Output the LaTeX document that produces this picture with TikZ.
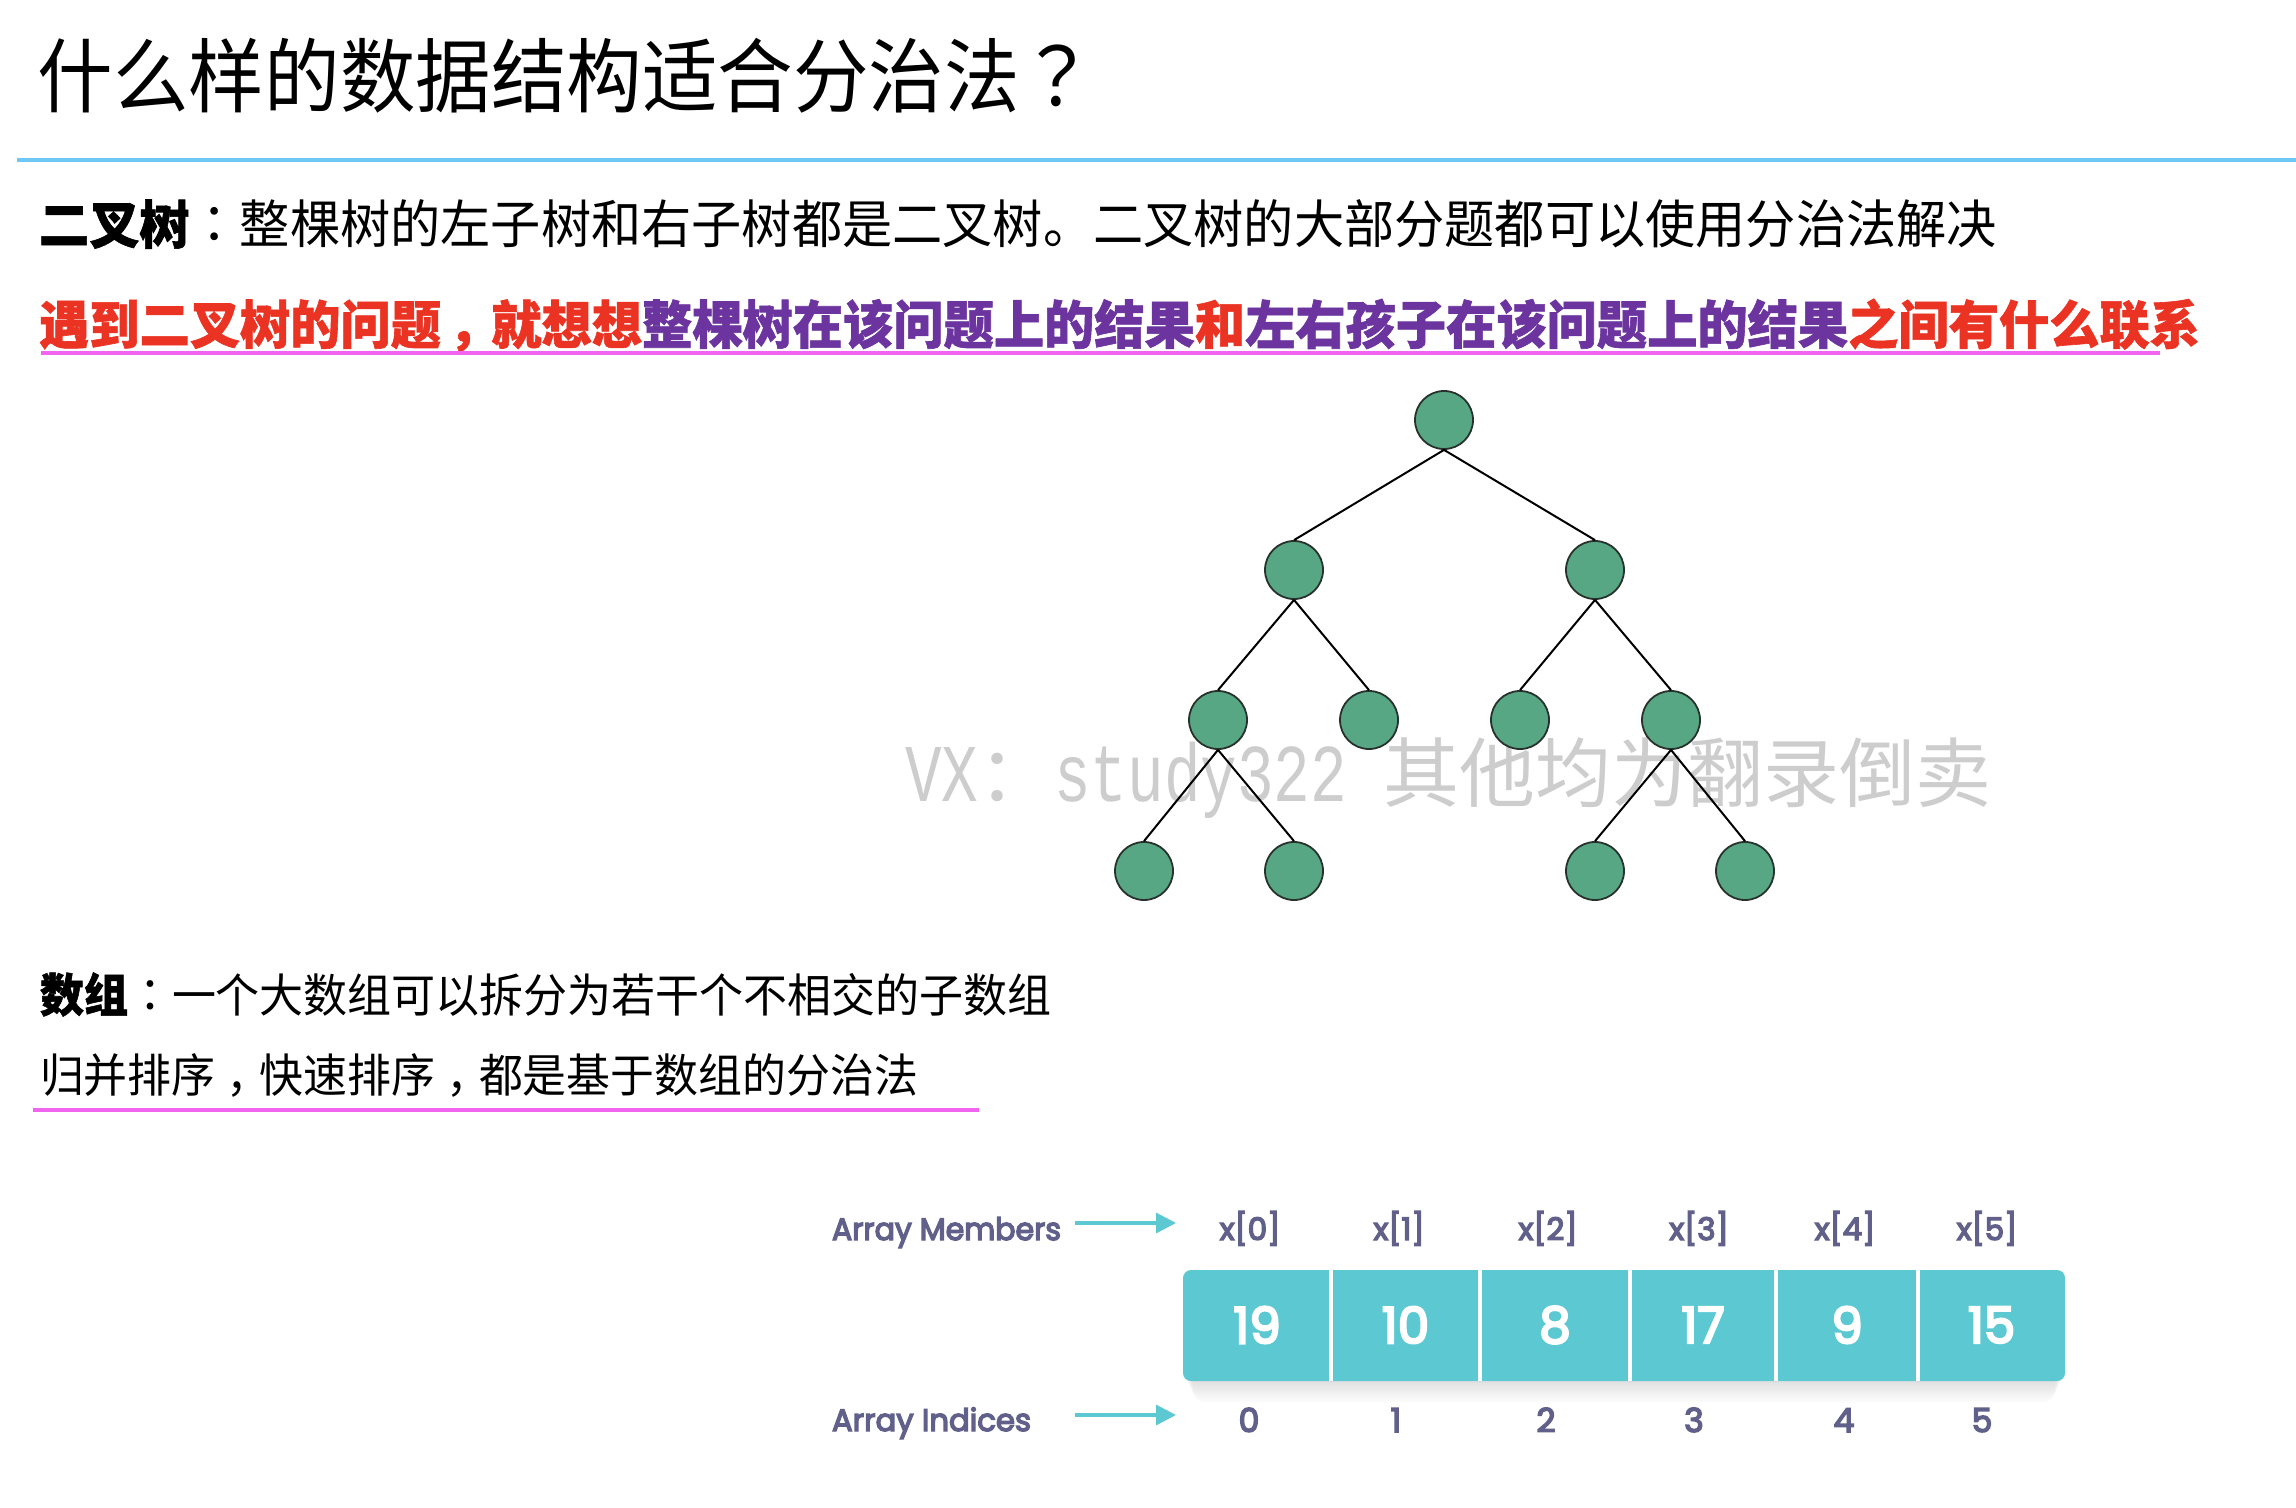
\documentclass[tikz,border=0pt]{standalone}
\usepackage{fontspec}
\usepackage{graphicx}
\usetikzlibrary{arrows.meta}
\setmainfont{Noto Sans CJK SC}
\newfontfamily\pop{Poppins}
\newfontfamily\popm{Poppins}[FakeBold=4.5]
\newfontfamily\wmmono{Liberation Mono}
\newfontfamily\cjk{Noto Sans CJK SC}
\newfontfamily\cjkheavy{Noto Sans CJK SC}[BoldFeatures={FakeBold=1.2}]
% centred full-width punctuation
\newfontfamily\cjkpunct{Noto Sans CJK TC}

% stretch or squeeze a text horizontally to a given width, keeping its height
\newcommand\fitw[2]{\resizebox{#1}{\height}{#2}}
\newcommand\pc[1]{{\cjkpunct #1}}
% full-width comma moved towards the middle of its cell
\newcommand\cm[1]{\makebox[1em][l]{\hspace{#1}，}}

\definecolor{titlerule}{RGB}{110,200,245}
\definecolor{hlred}{RGB}{235,51,35}
\definecolor{hlpurple}{RGB}{108,52,158}
\definecolor{uline}{RGB}{240,100,240}
\definecolor{tnfill}{RGB}{87,167,133}
\definecolor{tnline}{RGB}{40,50,45}
\definecolor{cellteal}{RGB}{91,200,210}
\definecolor{lblgray}{RGB}{96,96,138}
\definecolor{wmgray}{RGB}{205,205,205}

\tikzset{
  txt/.style={anchor=base west, inner sep=0pt, outer sep=0pt},
  tnode/.style={circle, draw=tnline, fill=tnfill, line width=0.9pt,
                minimum size=29pt, inner sep=0pt},
  tedge/.style={line width=1pt, black},
  rulerline/.style={line width=1.6pt},
  lbl/.style={anchor=base, inner sep=0pt, text=lblgray,
              font=\popm\fontsize{15.5pt}{18pt}\selectfont},
  idx/.style={anchor=base, inner sep=0pt, text=lblgray,
              font=\popm\fontsize{16.5pt}{19pt}\selectfont},
  cell/.style={minimum width=72pt, minimum height=55pt, inner sep=0pt,
               text=white, font=\popm\fontsize{25pt}{28pt}\selectfont},
  tarrow/.style={cellteal, line width=1.6pt,
                 -{Triangle[length=10pt,width=10pt]}},
}

\begin{document}
\begin{tikzpicture}[x=0.5pt,y=-0.5pt]
\fill[white] (0,0) rectangle (2296,1508);
\useasboundingbox (0,0) rectangle (2296,1508);

% ---- heading ----
\node[txt, font=\fontsize{40.5pt}{44pt}\selectfont] (title) at (38,107)
  {\fitw{528.5pt}{什么样的数据结构适合分治法\pc{？}}};
\draw[titlerule, rulerline] (17,160) -- (2296,160);

% ---- binary tree text ----
\node[txt, font=\fontsize{26pt}{30pt}\selectfont] (treedef) at (39,244)
  {\fitw{979pt}{{\cjkheavy\bfseries 二叉树}\pc{：}整棵树的左子树和右子树都是二叉树。二叉树的大部分题都可以使用分治法解决}};

\node[txt, font=\cjkheavy\bfseries\fontsize{26pt}{30pt}\selectfont] (treehint) at (39,344)
  {\fitw{1080.5pt}{\textcolor{hlred}{遇到二叉树的问题\cm{0.15em}就想想}\textcolor{hlpurple}{整棵树在该问题上的结果}\textcolor{hlred}{和}\textcolor{hlpurple}{左右孩子在该问题上的结果}\textcolor{hlred}{之间有什么联系}}};
\draw[uline, rulerline] (41,353) -- (2160,353);

% ---- array text ----
\node[txt, font=\fontsize{23pt}{27pt}\selectfont] (arrdef) at (40,1012)
  {\fitw{506pt}{{\cjkheavy\bfseries 数组}\pc{：}一个大数组可以拆分为若干个不相交的子数组}};
\node[txt, font=\fontsize{23pt}{27pt}\selectfont] (arrsort) at (40,1092)
  {\fitw{439pt}{归并排序\cm{0.25em}快速排序\cm{0.25em}都是基于数组的分治法}};
\draw[uline, rulerline] (33,1110) -- (979,1110);

% ---- watermark ----
\node[txt, text=wmgray] (wm) at (905,801)
  {{\wmmono\fontsize{41pt}{44pt}\selectfont\fitw{36.6pt}{VX}}{\cjk\fontsize{38pt}{40pt}\selectfont ：}{\wmmono\fontsize{41pt}{44pt}\selectfont\fitw{146.5pt}{study322}}\hspace{18.3pt}{\cjk\fontsize{38pt}{40pt}\selectfont 其他均为翻录倒卖}};

% ---- binary tree ----
\node[tnode] (r)   at (1444,420) {};
\node[tnode] (a)   at (1294,570) {};
\node[tnode] (b)   at (1595,570) {};
\node[tnode] (aa)  at (1218,720) {};
\node[tnode] (ab)  at (1369,720) {};
\node[tnode] (ba)  at (1520,720) {};
\node[tnode] (bb)  at (1671,720) {};
\node[tnode] (aaa) at (1144,871) {};
\node[tnode] (aab) at (1294,871) {};
\node[tnode] (bba) at (1595,871) {};
\node[tnode] (bbb) at (1745,871) {};
\foreach \p/\c in {r/a, r/b, a/aa, a/ab, b/ba, b/bb, aa/aaa, aa/aab, bb/bba, bb/bbb}
  \draw[tedge] (\p.south) -- (\c.north);

% ---- array picture ----
\node[txt, text=lblgray, font=\popm\fontsize{15.5pt}{18pt}\selectfont] (members) at (832,1240)
  {\fitw{114.5pt}{Array Members}};
\node[txt, text=lblgray, font=\popm\fontsize{15.5pt}{18pt}\selectfont] (indices) at (832,1431)
  {\fitw{99.5pt}{Array Indices}};
\coordinate (mtip) at (1176,1223);
\coordinate (itip) at (1176,1415);
\draw[tarrow] (members.east |- mtip) ++(14,0) -- (mtip);
\draw[tarrow] (indices.east |- itip) ++(44,0) -- (itip);

% soft shadow under the cells
\foreach \i in {1,...,10}
  \fill[black, opacity=0.010, rounded corners=6pt]
    (1183+\i,1290) rectangle (2065-\i,1381+2.2*\i);
\fill[cellteal, rounded corners=4pt] (1183,1270) rectangle (2065,1381);
\foreach \x in {1331,1480,1630,1776,1918}
  \draw[white, line width=2pt] (\x,1270) -- (\x,1381);

\foreach \n/\cx/\v in {0/1257/19, 1/1405.5/10, 2/1555/8, 3/1703/17, 4/1847/9, 5/1991.5/15}
  \node[cell] (c\n) at (\cx,1325) {\v};
\foreach \n/\lx in {0/1250, 1/1399, 2/1548, 3/1699, 4/1845, 5/1987}
  \node[lbl] (m\n) at (\lx,1240) {x[\n]};
\foreach \n/\lx in {0/1249, 1/1396, 2/1546, 3/1694, 4/1844, 5/1982}
  \node[idx] (i\n) at (\lx,1432) {\n};
\end{tikzpicture}
\end{document}
